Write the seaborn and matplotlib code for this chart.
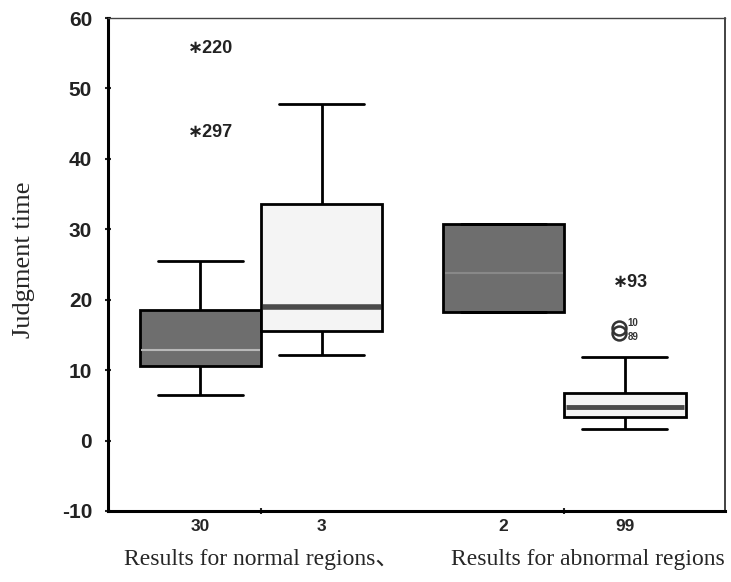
import numpy as np
import pandas as pd
import matplotlib
matplotlib.use("Agg")
import matplotlib.pyplot as plt
import matplotlib.transforms as mtransforms
import seaborn as sns

# ---- data ----
groups = ["Results for normal regions\u3001", "Results for abnormal regions"]
kinds = ["A", "B"]
counts = ["30", "3", "2", "99"]
# five-number summaries per box: whisker low, Q1, median, Q3, whisker high
box_normal_A = [6.4, 10.6, 12.9, 18.6, 25.5]
box_normal_B = [12.2, 15.6, 19.0, 33.6, 47.8]
box_abnormal_A = [18.2, 18.2, 23.8, 30.8, 30.8]
box_abnormal_B = [1.6, 3.3, 4.7, 6.8, 11.9]
# outliers: (box index, value, label, symbol)
outlier_box = [0, 0, 3, 3, 3]
outlier_val = [55.7, 43.7, 22.4, 16.0, 15.3]
outlier_lab = ["220", "297", "93", "10", "89"]
outlier_sym = ["*", "*", "*", "o", "o"]

boxes = [box_normal_A, box_normal_B, box_abnormal_A, box_abnormal_B]
rows = []
for i, b in enumerate(boxes):
    g = groups[i // 2]
    k = kinds[i % 2]
    for v in b:
        rows.append({"group": g, "kind": k, "value": v})
df = pd.DataFrame(rows)

# ---- figure ----
sns.set_theme(style="white")
plt.rcParams["font.family"] = ["Liberation Sans", "DejaVu Sans"]
plt.rcParams["axes.unicode_minus"] = False

fig = plt.figure(figsize=(7.31, 5.82), dpi=100)
ax = fig.add_axes([108 / 731, 71 / 582, 617 / 731, 493 / 582])

dark = "#6e6e6e"
light = "#f4f4f4"
sns.boxplot(data=df, x="group", y="value", hue="kind", order=groups,
            hue_order=kinds, palette=[dark, light], whis=(0, 100),
            showfliers=False, width=0.8, gap=0, legend=False, ax=ax,
            linecolor="black", linewidth=2.0,
            medianprops=dict(linewidth=3.5, color="#505050"))

ax.set_xlim(-0.505, 1.53)
ax.set_ylim(-10, 60)

centers = [-0.2, 0.2, 0.8, 1.2]
half = 0.2
median_colors = ["#b8b8b8", "#4a4a4a", "#888888", "#4a4a4a"]
median_lw = [1.5, 4.0, 1.5, 3.5]
for ln in ax.lines:
    xd = np.asarray(ln.get_xdata(), dtype=float)
    yd = np.asarray(ln.get_ydata(), dtype=float)
    if len(xd) == 2 and np.isclose(yd[0], yd[1]):
        c = xd.mean()
        idx = int(np.argmin([abs(c - cc) for cc in centers]))
        w = abs(xd[1] - xd[0])
        if w > 0.9 * 2 * half:
            ln.set_color(median_colors[idx])
            ln.set_linewidth(median_lw[idx])
            ln.set_xdata([c - half + 0.005, c + half - 0.005])
        else:
            ln.set_xdata([c - 0.14, c + 0.14])
            ln.set_linewidth(2.0)

for p in ax.patches:
    p.set_linewidth(2.0)

# outliers
label_dy = {"10": 0.7, "89": -0.6}
for bi, v, lab, sym in zip(outlier_box, outlier_val, outlier_lab, outlier_sym):
    c = centers[bi]
    if sym == "*":
        ax.text(c - 0.04, v, "\u2217" + lab, fontsize=13, fontweight="bold",
                va="center", ha="left", color="#222222")
    else:
        ax.plot([c - 0.02], [v], marker="o", ms=10, mfc="none", mec="#333333", mew=1.8)
        ax.text(c + 0.008, v + label_dy.get(lab, 0), lab, fontsize=7, fontweight="bold",
                va="center", ha="left", color="#333333")

# axes styling
for s in ["left", "bottom"]:
    ax.spines[s].set_linewidth(2.2)
    ax.spines[s].set_color("black")
ax.spines["top"].set_linewidth(1.0)
ax.spines["top"].set_color("#444444")
ax.spines["right"].set_linewidth(1.2)
ax.spines["right"].set_color("#222222")

ax.set_yticks(range(-10, 61, 10))
ax.tick_params(axis="y", direction="inout", length=5, width=1.5, pad=9,
               labelsize=15, left=True)
for t in ax.get_yticklabels():
    t.set_fontweight("bold")
    t.set_color("#222222")

ax.set_xticks([0, 1])
ax.set_xticklabels(groups, family=["Liberation Serif", "Noto Sans CJK JP"], fontsize=17)
ax.set_xticks(centers, minor=True)
ax.set_xticklabels(counts, minor=True, fontsize=12.5, fontweight="bold")
ax.tick_params(axis="x", which="major", direction="inout", length=5, width=1.5,
               pad=25, bottom=True)
ax.tick_params(axis="x", which="minor", length=0, pad=6)

# shift the second group label slightly to the right, as in the reference
shift = mtransforms.ScaledTranslation(24 / 100, 0, fig.dpi_scale_trans)
lbl = ax.get_xticklabels()[1]
lbl.set_transform(lbl.get_transform() + shift)

ax.set_xlabel("")
ax.set_ylabel("Judgment time", family="Liberation Serif", fontsize=19)
ax.yaxis.set_label_coords(-0.118, 0.51)

fig.savefig("out.png", dpi=100)
